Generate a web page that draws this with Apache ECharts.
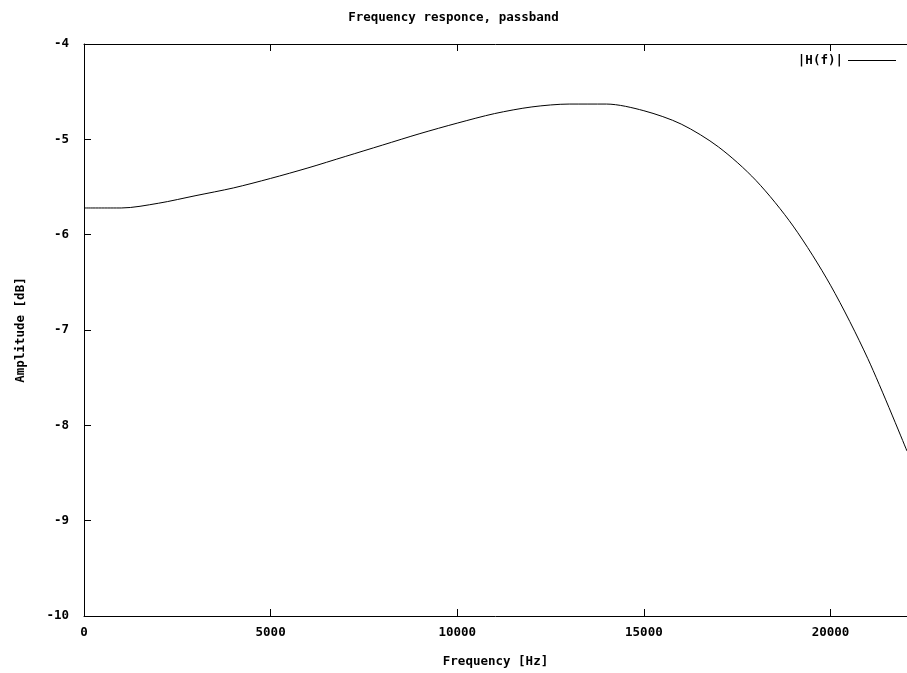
<!DOCTYPE html>
<html>
<head>
<meta charset="utf-8">
<script src="https://cdn.jsdelivr.net/npm/echarts@6/dist/echarts.min.js"></script>
<style>
  html, body { margin: 0; padding: 0; background: #fff; }
  #chart { width: 907px; height: 673px; }
</style>
</head>
<body>
<div id="chart"></div>
<script>
// frequency points (Hz) and magnitude (dB)
const freqs = [0, 1000, 2000, 3000, 4000, 5000, 6000, 7000, 8000, 9000, 10000,
  11000, 12000, 13000, 14000, 15000, 16000, 17000, 18000, 19000, 20000, 21000, 22050];
const ampDb = [-5.72, -5.72, -5.67, -5.59, -5.51, -5.41, -5.30, -5.18, -5.06, -4.94, -4.83,
  -4.73, -4.66, -4.63, -4.63, -4.70, -4.84, -5.08, -5.43, -5.91, -6.53, -7.30, -8.27];
const xTicks = [0, 5000, 10000, 15000, 20000];
const yTicks = [-10, -9, -8, -7, -6, -5, -4];

const font = 'DejaVu Sans Mono';
const fs = 12.5;
const chart = echarts.init(document.getElementById('chart'));

const axisBase = {
  axisLine: { show: true, lineStyle: { color: '#000', width: 1 } },
  axisTick: { show: true, inside: true, length: 7, lineStyle: { color: '#000' } },
  splitLine: { show: false }
};

chart.setOption({
  animation: false,
  backgroundColor: '#fff',
  title: {
    text: 'Frequency responce, passband',
    left: 'center',
    top: 6,
    textStyle: { fontFamily: font, fontSize: fs, fontWeight: 'bold', color: '#000' }
  },
  legend: {
    right: 6,
    top: 49,
    align: 'right',
    icon: 'rect',
    itemWidth: 48,
    itemHeight: 1,
    textStyle: { fontFamily: font, fontSize: fs, fontWeight: 'bold', color: '#000' },
    data: ['|H(f)|']
  },
  grid: { left: 84, right: -2, top: 44, bottom: 56 },
  xAxis: [
    Object.assign({}, axisBase, {
      type: 'value',
      min: 0,
      max: 22050,
      interval: 5000,
      name: 'Frequency [Hz]',
      nameLocation: 'middle',
      nameGap: 39,
      nameTextStyle: { fontFamily: font, fontSize: fs, fontWeight: 'bold', color: '#000' },
      axisLabel: {
        fontFamily: font, fontSize: fs, fontWeight: 'bold', color: '#000', margin: 10,
        showMaxLabel: false,
        formatter: v => (xTicks.indexOf(v) >= 0 ? String(v) : '')
      }
    }),
    Object.assign({}, axisBase, {
      type: 'value',
      position: 'top',
      min: 0,
      max: 22050,
      interval: 5000,
      axisLabel: { show: false }
    })
  ],
  yAxis: Object.assign({}, axisBase, {
    type: 'value',
    min: -10,
    max: -4,
    interval: 1,
    name: 'Amplitude [dB]',
    nameLocation: 'middle',
    nameGap: 57,
    nameTextStyle: { fontFamily: font, fontSize: fs, fontWeight: 'bold', color: '#000' },
    axisLabel: {
      fontFamily: font, fontSize: fs, fontWeight: 'bold', color: '#000', margin: 15,
      formatter: v => (yTicks.indexOf(v) >= 0 ? String(v) : '')
    }
  }),
  series: [{
    name: '|H(f)|',
    type: 'line',
    xAxisIndex: 0,
    smooth: 0.3,
    showSymbol: false,
    lineStyle: { color: '#000', width: 1 },
    itemStyle: { color: '#000' },
    data: freqs.map((f, i) => [f, ampDb[i]])
  }]
});
</script>
</body>
</html>
